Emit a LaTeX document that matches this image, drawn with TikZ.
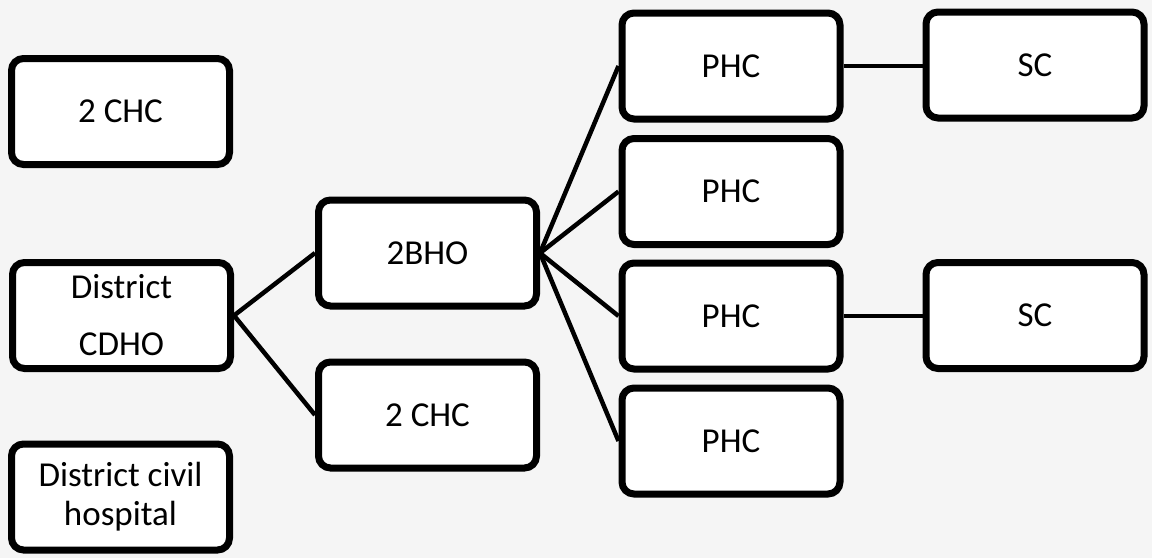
\documentclass[tikz,border=0pt]{standalone}
\usepackage{fontspec}
\setmainfont{Carlito}
\usetikzlibrary{shadows}
\begin{document}
\begin{tikzpicture}[x=1pt,y=-1pt,
  box/.style={draw=black, line width=7pt, rounded corners=12pt, fill=white,
    minimum width=218pt, minimum height=106pt, inner sep=0pt, align=center,
    font=\fontsize{35}{39}\selectfont,
    drop shadow={fill=black!35, opacity=0.6, shadow xshift=2pt, shadow yshift=-3pt}},
  link/.style={draw=black, line width=4.5pt}]
\fill[black!4] (0,0) rectangle (1152,558);
\useasboundingbox (0,0) rectangle (1152,558);
\node[box] (chcA) at (120.5,111.5) {2 CHC};
\node[box] (cdho) at (121.5,315.5) {District\\[18pt]CDHO};
\node[box] (hosp) at (120.5,497) {District civil\\hospital};
\node[box] (bho) at (427.5,253) {2BHO};
\node[box] (chcB) at (427.5,415) {2 CHC};
\node[box] (phc1) at (731,66) {PHC};
\node[box] (phc2) at (731,191.5) {PHC};
\node[box] (phc3) at (731,316) {PHC};
\node[box] (phc4) at (731,441) {PHC};
\node[box] (sc1) at (1035,65) {SC};
\node[box] (sc2) at (1035,315.5) {SC};
\draw[link] (cdho.east) -- (bho.west);
\draw[link] (cdho.east) -- (chcB.west);
\draw[link] (bho.east) -- (phc1.west);
\draw[link] (bho.east) -- (phc2.west);
\draw[link] (bho.east) -- (phc3.west);
\draw[link] (bho.east) -- (phc4.west);
\draw[link] (phc1.east) -- (phc1.east -| sc1.west);
\draw[link] (phc3.east) -- (phc3.east -| sc2.west);
\end{tikzpicture}
\end{document}
